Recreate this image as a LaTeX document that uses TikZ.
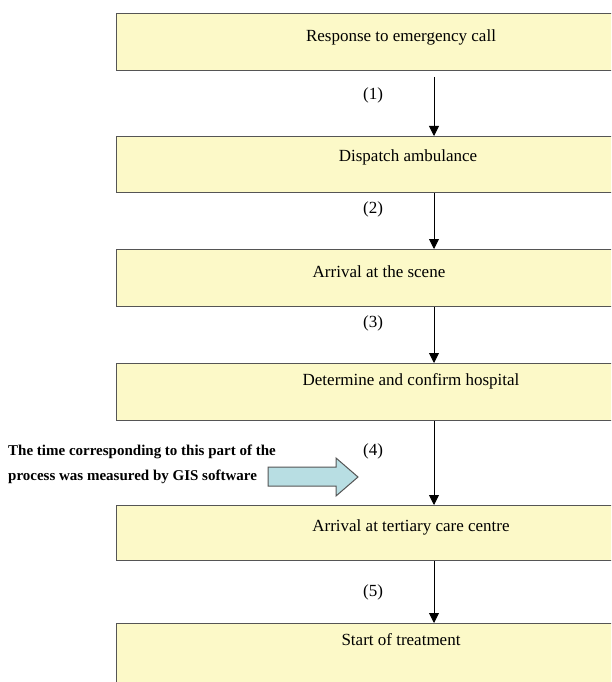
\documentclass[tikz,border=0pt]{standalone}
\usepackage{fontspec}
\setmainfont{Liberation Serif}
\usetikzlibrary{arrows.meta}

\definecolor{boxfill}{RGB}{252,249,200}
\definecolor{boxline}{RGB}{85,85,85}
\definecolor{gisfill}{RGB}{184,222,227}

\begin{document}
\begin{tikzpicture}[x=1pt,y=-1pt,
  stepbox/.style={draw=boxline,fill=boxfill,line width=1pt,anchor=north west,
    minimum width=620pt,inner sep=0pt},
  boxtext/.style={font=\fontsize{17}{20}\selectfont, inner sep=1pt},
  num/.style={font=\fontsize{17}{20}\selectfont, inner sep=1pt},
  note/.style={font=\fontsize{15}{18}\selectfont\bfseries, anchor=base west, inner sep=0pt},
  flow/.style={-{Triangle[length=10pt,width=10pt]},line width=0.9pt},
  gisarrow/.style={draw=boxline,fill=gisfill,line width=1pt},
]
\useasboundingbox (0,0) rectangle (611,682);
\clip (0,0) rectangle (611,682);

%--- process boxes ------------------------------------------------------
\foreach \i/\y/\h in {1/13/57,2/136/56,3/249/57,4/363/57,5/505/55,6/623/80}{
  \node[stepbox,minimum height=\h pt] (b\i) at (116,\y) {};
}

% texts in the boxes
\node[boxtext] (t1) at (401,37)  {Response to emergency call};
\node[boxtext] (t2) at (408,157) {Dispatch ambulance};
\node[boxtext] (t3) at (379,272) {Arrival at the scene};
\node[boxtext] (t4) at (411,381) {Determine and confirm hospital};
\node[boxtext] (t5) at (411,527) {Arrival at tertiary care centre};
\node[boxtext] (t6) at (401,640) {Start of treatment};

%--- connectors -----------------------------------------------------------
\coordinate (ax) at (434,0);
\draw[flow,shorten <=6pt] (b1.south -| ax) -- (b2.north -| ax);
\foreach \a/\b in {2/3,3/4,4/5,5/6}{
  \draw[flow] (b\a.south -| ax) -- (b\b.north -| ax);
}

% step numbers
\foreach \i/\y in {1/95,2/209,3/323,4/451,5/592}{
  \node[num] (n\i) at (373,\y) {(\i)};
}

%--- GIS note ---------------------------------------------------------------
\node[note] (g1) at (8,455) {The time corresponding to this part of the};
\node[note] (g2) at (8,480) {process was measured by GIS software};

\draw[gisarrow] (268,467) -- (336,467) -- (336,458) -- (358,477)
  -- (336,496) -- (336,486) -- (268,486) -- cycle;

\end{tikzpicture}
\end{document}
